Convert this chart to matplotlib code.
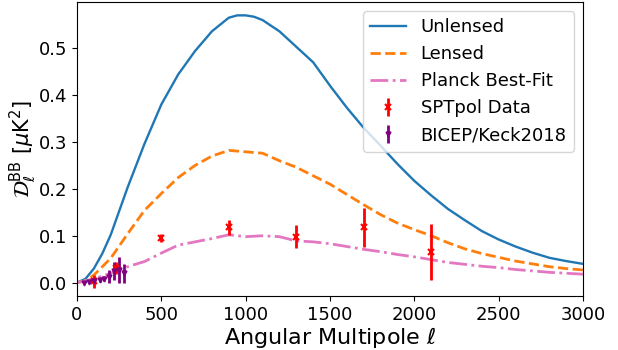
import matplotlib
matplotlib.use("Agg")
import matplotlib.pyplot as plt
import numpy as np

# Theory curves
ell_unl = [0, 50, 100, 150, 200, 300, 400, 500, 600, 700, 800, 900, 950, 1000, 1050, 1100, 1200,
           1300, 1400, 1500, 1600, 1700, 1800, 1900, 2000, 2100, 2200, 2300, 2400,
           2500, 2600, 2700, 2800, 2900, 3000]
unlensed = [0.0, 0.008, 0.03, 0.062, 0.102, 0.203, 0.296, 0.38, 0.444, 0.494, 0.536,
            0.565, 0.57, 0.57, 0.567, 0.56, 0.536, 0.503, 0.47, 0.42, 0.373, 0.33, 0.292, 0.253,
            0.217, 0.186, 0.157, 0.133, 0.11, 0.092, 0.077, 0.064, 0.053, 0.046, 0.04]

ell_len = [0, 50, 100, 200, 300, 400, 500, 600, 700, 800, 900, 1000, 1100, 1200, 1300,
           1400, 1500, 1600, 1700, 1800, 1900, 2000, 2100, 2200, 2300, 2400, 2500,
           2600, 2700, 2800, 2900, 3000]
lensed = [0.0, 0.004, 0.016, 0.052, 0.104, 0.154, 0.19, 0.224, 0.25, 0.27, 0.282,
          0.279, 0.276, 0.26, 0.246, 0.228, 0.21, 0.188, 0.166, 0.145, 0.127, 0.113,
          0.1, 0.085, 0.072, 0.062, 0.054, 0.046, 0.04, 0.034, 0.03, 0.027]

ell_pl = [0, 100, 200, 300, 400, 500, 600, 700, 800, 900, 1000, 1100, 1200, 1300, 1400,
          1500, 1600, 1700, 1800, 1900, 2000, 2100, 2200, 2300, 2400, 2500, 2600,
          2700, 2800, 2900, 3000]
planck = [0.0, 0.008, 0.02, 0.034, 0.045, 0.063, 0.08, 0.087, 0.094, 0.102, 0.098,
          0.1, 0.098, 0.089, 0.087, 0.083, 0.077, 0.071, 0.066, 0.06, 0.055, 0.049,
          0.043, 0.039, 0.035, 0.032, 0.028, 0.025, 0.022, 0.02, 0.018]

# SPTpol bandpowers
spt_ell = [100, 230, 500, 900, 1300, 1700, 2100]
spt_val = [0.003, 0.031, 0.095, 0.118, 0.098, 0.118, 0.065]
spt_err = [0.014, 0.012, 0.009, 0.016, 0.025, 0.042, 0.06]

# BICEP/Keck 2018 bandpowers
bk_ell = [40, 69, 99, 134, 162, 192, 221, 247, 277]
bk_val = [0.0, 0.001, 0.0036, 0.0057, 0.0085, 0.0128, 0.025, 0.027, 0.02]
bk_err = [0.001, 0.002, 0.003, 0.004, 0.006, 0.014, 0.02, 0.028, 0.02]

fig = plt.figure(figsize=(6.18, 3.5), dpi=100)
ax = fig.add_axes([77/618, 1-296/350, (583-77)/618, (296-2)/350])

ax.plot(ell_unl, unlensed, color='C0', lw=1.7, label='Unlensed')
ax.plot(ell_len, lensed, color='C1', lw=2, ls='--', label='Lensed')
ax.plot(ell_pl, planck, color='C6', lw=2, ls='-.', label='Planck Best-Fit')
ax.errorbar(spt_ell, spt_val, yerr=spt_err, fmt='x', color='red', ms=4, mew=1.5,
            elinewidth=2, capsize=0, label='SPTpol Data')
ax.errorbar(bk_ell, bk_val, yerr=bk_err, fmt='v', color='purple', ms=3.5,
            elinewidth=2, capsize=0, label='BICEP/Keck2018')

ax.set_xlim(0, 3000)
ax.set_ylim(-0.0285, 0.5985)
ax.set_xticks([0, 500, 1000, 1500, 2000, 2500, 3000])
ax.set_yticks([0.0, 0.1, 0.2, 0.3, 0.4, 0.5])
ax.tick_params(labelsize=13)
ax.set_xlabel(r'Angular Multipole $\ell$', fontsize=16, labelpad=1)
ax.set_ylabel(r'$\mathcal{D}_\ell^{\mathrm{BB}}$ [$\mu$K$^2$]', fontsize=15, labelpad=0)
ax.legend(loc='upper right', fontsize=13)

fig.savefig('out.png', dpi=100)
